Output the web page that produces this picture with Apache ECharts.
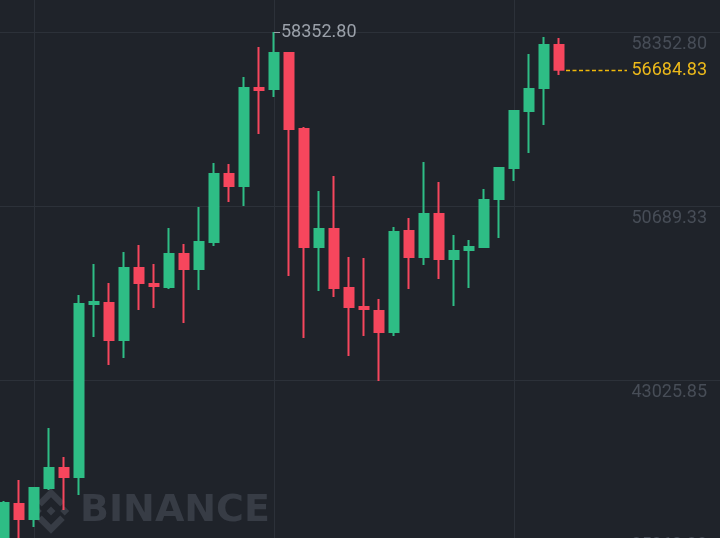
<!DOCTYPE html>
<html><head><meta charset="utf-8">
<script src="https://cdn.jsdelivr.net/npm/echarts@6/dist/echarts.min.js"></script>
<style>html,body{margin:0;padding:0;background:#1f232a;}#c{width:720px;height:538px;}</style>
</head><body><div id="c"></div>
<script>
// Daily candles, left to right
const opens = [35538.5, 37564.5, 36903.9, 38269.2, 39150.1, 38753.7, 46373.1, 46417.2, 44787.6, 47958.7,
  47254.0, 47121.9, 48575.3, 47914.6, 49103.8, 52098.7, 51570.2, 55886.4, 55842.4, 57427.9,
  54080.7, 48883.6, 49676.4, 47077.8, 46241.0, 46064.8, 45139.9, 49588.2, 48443.1, 50337.0,
  48355.1, 48751.4, 48883.6, 50997.6, 52363.0, 54873.4, 55886.4, 57780.3];
const closes = [37608.6, 36903.9, 38269.2, 39150.1, 38753.7, 46373.1, 46461.2, 44787.6, 47958.7, 47298.0,
  47165.9, 48575.3, 47914.6, 49103.8, 52098.7, 51570.2, 55886.4, 55798.3, 57427.9, 54080.7,
  48883.6, 49676.4, 47077.8, 46241.0, 46152.9, 45139.9, 49544.2, 48443.1, 50337.0, 48355.1,
  48707.4, 48883.6, 50953.6, 52363.0, 54873.4, 55842.4, 57780.3, 56684.83];
const lows = [35098.1, 35890.9, 36551.5, 38181.1, 37300.3, 37960.9, 44919.7, 43686.5, 43994.8, 46108.9,
  46197.0, 47033.8, 45536.3, 46989.7, 48927.6, 50865.5, 50689.3, 53860.4, 55490.0, 47606.3,
  44875.7, 46945.7, 46681.4, 44082.9, 44963.8, 42981.8, 44963.8, 47033.8, 48090.8, 47474.2,
  46285.0, 47077.8, 48839.5, 49280.0, 51790.4, 53023.6, 54256.8, 56459.0];
const highs = [37696.7, 38621.6, 38269.2, 40911.8, 39634.5, 46769.5, 48134.8, 47298.0, 48663.4, 48971.7,
  48134.8, 49720.4, 49015.7, 50645.3, 52583.2, 52539.1, 56370.9, 57692.2, 58352.80, 57472.0,
  54168.7, 51350.0, 52010.6, 48443.1, 48399.1, 46593.3, 49764.4, 50160.8, 52627.2, 51746.4,
  49412.1, 49191.9, 51438.1, 52407.0, 54917.5, 57383.9, 58132.6, 58088.6];
const lastPrice = 56684.83;
const tickValues = [35362.375, 43025.85, 50689.325, 58352.80];
const tickLabels = ['35362.38', '43025.85', '50689.33', '58352.80'];
const gridCandles = [2, 18, 34];

const UP = '#2ebd85', DOWN = '#f6465d', BG = '#1f232a', GRIDC = '#2c3139';
const step = tickValues[1] - tickValues[0];

const chart = echarts.init(document.getElementById('c'), null, {renderer: 'canvas'});
const option = {
  backgroundColor: BG,
  animation: false,
  grid: {left: 0, width: 720, top: -142, height: 696, containLabel: false, outerBoundsMode: 'none'},
  xAxis: {
    type: 'value', min: -4 / 15, max: 716 / 15,
    axisLine: {show: false}, axisTick: {show: false}, axisLabel: {show: false}, splitLine: {show: false}
  },
  yAxis: {
    type: 'value', position: 'right', scale: true,
    min: tickValues[0], max: tickValues[3] + step, interval: step,
    axisLine: {show: false}, axisTick: {show: false},
    splitLine: {show: true, lineStyle: {color: GRIDC, width: 1}},
    axisLabel: {
      inside: true, margin: 13, color: '#474d57', fontSize: 18, fontFamily: 'Roboto',
      verticalAlign: 'top', padding: [3, 0, 0, 0], showMaxLabel: false,
      formatter: function (v) {
        let best = 0;
        tickValues.forEach((t, i) => { if (Math.abs(t - v) < Math.abs(tickValues[best] - v)) best = i; });
        return Math.abs(tickValues[best] - v) < 1 ? tickLabels[best] : '';
      }
    }
  },
  series: [{
    type: 'candlestick',
    data: opens.map((o, i) => [i, o, closes[i], lows[i], highs[i]]),
    barWidth: 10,
    clip: false,
    itemStyle: {color: UP, color0: DOWN, borderColor: UP, borderColor0: DOWN, borderWidth: 2},
    markLine: {
      silent: true, z: 1, symbol: 'none', animation: false,
      label: {show: false},
      lineStyle: {color: GRIDC, type: 'solid', width: 1},
      data: gridCandles.map(i => ({xAxis: i}))
    }
  }]
};
chart.setOption(option);

const last = opens.length - 1;
const pLast = chart.convertToPixel({gridIndex: 0}, [last, lastPrice]);
const maxHigh = Math.max(...highs);
const hiIdx = highs.indexOf(maxHigh);
const pHi = chart.convertToPixel({gridIndex: 0}, [hiIdx, maxHigh]);
const py = Math.round(pLast[1]) + 0.5;
const hy = Math.round(pHi[1]) + 0.5;

// Binance watermark logo
const s = 0.36, cx = 51, cy = 511;
function tp(pts) { return pts.map(p => [cx + (p[0] - 63) * s, cy + (p[1] - 63) * s]); }
const logoShapes = [
  [[63, 50.5], [75.5, 63], [63, 75.5], [50.5, 63]],
  [[25, 50.5], [37.5, 63], [25, 75.5], [12.5, 63]],
  [[101, 50.5], [113.5, 63], [101, 75.5], [88.5, 63]],
  [[63, 0], [101.3, 38.3], [88.8, 50.8], [63, 25], [37.2, 50.8], [24.7, 38.3]],
  [[63, 126], [101.3, 87.7], [88.8, 75.2], [63, 101], [37.2, 75.2], [24.7, 87.7]]
];
const WM = '#373c45';
const graphics = logoShapes.map(pts => ({
  type: 'polygon', z: 0, silent: true, shape: {points: tp(pts)}, style: {fill: WM}
}));
graphics.push({
  type: 'text', z: 0, silent: true, x: 80, y: 511,
  style: {text: 'BINANCE', fill: WM, font: 'bold 38px "DejaVu Sans"', textAlign: 'left', textVerticalAlign: 'middle', align: 'left', verticalAlign: 'middle'}
});
// last price dashed line + label
graphics.push({
  type: 'line', z: 10, silent: true,
  shape: {x1: pLast[0] + 7, y1: py, x2: 627, y2: py},
  style: {stroke: '#f0b90b', lineWidth: 1.5, lineDash: [4, 2.5]}
});
graphics.push({
  type: 'text', z: 10, silent: true, x: 707, y: pLast[1] + 1,
  style: {text: lastPrice.toFixed(2), fill: '#ecb91a', font: '18px Roboto', textAlign: 'right', textVerticalAlign: 'middle', align: 'right', verticalAlign: 'middle'}
});
// highest price marker
graphics.push({
  type: 'line', z: 10, silent: true,
  shape: {x1: pHi[0], y1: hy, x2: pHi[0] + 6, y2: hy},
  style: {stroke: '#9aa0a9', lineWidth: 1}
});
graphics.push({
  type: 'text', z: 10, silent: true, x: pHi[0] + 7, y: pHi[1],
  style: {text: maxHigh.toFixed(2), fill: '#9aa0a9', font: '18px Roboto', textAlign: 'left', textVerticalAlign: 'middle', align: 'left', verticalAlign: 'middle'}
});
// bottom axis label clamped to the pane edge
graphics.push({
  type: 'text', z: 10, silent: true, x: 707, y: 536,
  style: {text: tickLabels[0], fill: '#474d57', font: '18px Roboto', textAlign: 'right', textVerticalAlign: 'top', align: 'right', verticalAlign: 'top'}
});
chart.setOption({graphic: graphics});
</script>
</body></html>
